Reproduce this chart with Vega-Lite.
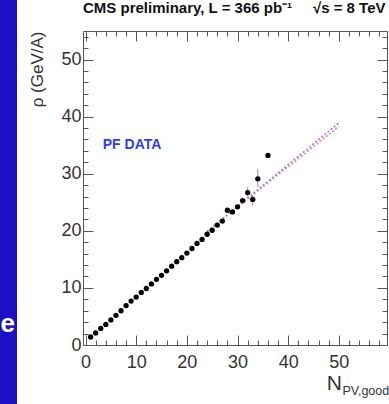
{
  "$schema": "https://vega.github.io/schema/vega-lite/v6.json",
  "width": 304,
  "height": 314,
  "autosize": {"type": "none"},
  "padding": {"left": 83, "top": 31, "right": 2, "bottom": 59},
  "background": "#1d10c4",
  "config": {
    "view": {"stroke": "white", "strokeWidth": 132, "fill": "white"},
    "font": "Liberation Sans"
  },
  "title": {
    "text": "CMS preliminary, L = 366 pb⁻¹\u00a0\u00a0\u00a0\u00a0\u00a0√s = 8 TeV",
    "anchor": "start",
    "frame": "group",
    "font": "Liberation Sans",
    "fontSize": 15,
    "fontWeight": "bold",
    "color": "#111111",
    "baseline": "alphabetic",
    "offset": 14,
    "dy": 14.5
  },
  "resolve": {"axis": {"x": "independent", "y": "independent"}},
  "layer": [
    {
      "data": {"values": [{"N": 24, "rho": 19.9}, {"N": 50, "rho": 38.9}]},
      "mark": {"type": "line", "color": "#7b7bff", "strokeDash": [2, 2], "strokeWidth": 1.5},
      "encoding": {
        "x": {
          "field": "N", "type": "quantitative",
          "scale": {"domain": [-0.5, 59.5], "nice": false, "zero": false},
          "axis": {
            "orient": "bottom",
            "values": [0,2,4,6,8,10,12,14,16,18,20,22,24,26,28,30,32,34,36,38,40,42,44,46,48,50,52,54,56,58],
            "tickSize": {"condition": {"test": "datum.value % 10 === 0", "value": -10}, "value": -5},
            "labelExpr": "datum.value % 10 === 0 ? datum.label : ''",
            "labelFont": "Liberation Sans", "labelFontSize": 18, "labelColor": "#333333",
            "labelPadding": 18, "labelFlush": false, "labelOverlap": false,
            "domainColor": "#555555", "tickColor": "#555555", "grid": false, "title": null
          }
        },
        "y": {
          "field": "rho", "type": "quantitative",
          "scale": {"domain": [0, 55], "nice": false, "zero": false},
          "axis": {
            "orient": "left",
            "values": [0,2,4,6,8,10,12,14,16,18,20,22,24,26,28,30,32,34,36,38,40,42,44,46,48,50,52,54],
            "tickSize": {"condition": {"test": "datum.value % 10 === 0", "value": -10}, "value": -5},
            "labelExpr": "datum.value % 10 === 0 ? datum.label : ''",
            "labelFont": "Liberation Sans", "labelFontSize": 18, "labelColor": "#333333",
            "labelPadding": 12, "labelFlush": false, "labelOverlap": false,
            "domainColor": "#555555", "tickColor": "#555555", "grid": false,
            "title": "ρ (GeV/A)", "titleAnchor": "end", "titleFont": "Liberation Sans",
            "titleFontSize": 17, "titleFontWeight": "normal", "titleColor": "#333333", "titlePadding": 14
          }
        }
      }
    },
    {
      "data": {"values": [{"N": 24, "rho": 19.9}, {"N": 50, "rho": 38.3}]},
      "mark": {"type": "line", "color": "#ff7b7b", "strokeDash": [2, 2], "strokeWidth": 1.5},
      "encoding": {
        "x": {
          "field": "N", "type": "quantitative",
          "axis": {
            "orient": "top",
            "values": [0,2,4,6,8,10,12,14,16,18,20,22,24,26,28,30,32,34,36,38,40,42,44,46,48,50,52,54,56,58],
            "tickSize": {"condition": {"test": "datum.value % 10 === 0", "value": -10}, "value": -5},
            "labels": false, "domainColor": "#555555", "tickColor": "#555555", "grid": false, "title": null
          }
        },
        "y": {
          "field": "rho", "type": "quantitative",
          "axis": {
            "orient": "right",
            "values": [0,2,4,6,8,10,12,14,16,18,20,22,24,26,28,30,32,34,36,38,40,42,44,46,48,50,52,54],
            "tickSize": {"condition": {"test": "datum.value % 10 === 0", "value": -10}, "value": -5},
            "labels": false, "domainColor": "#555555", "tickColor": "#555555", "grid": false, "title": null
          }
        }
      }
    },
    {
      "data": {"values": [
        {"N": 32, "lo": 26.0, "hi": 27.7},
        {"N": 33, "lo": 24.4, "hi": 26.3},
        {"N": 34, "lo": 27.7, "hi": 30.8}
      ]},
      "mark": {"type": "rule", "color": "#8a8ae0", "strokeWidth": 1},
      "encoding": {
        "x": {"field": "N", "type": "quantitative", "axis": null},
        "y": {"field": "lo", "type": "quantitative", "axis": null},
        "y2": {"field": "hi"}
      }
    },
    {
      "data": {"values": [
        {"N": 1, "rho": 1.4}, {"N": 2, "rho": 2.1}, {"N": 3, "rho": 2.9}, {"N": 4, "rho": 3.6},
        {"N": 5, "rho": 4.4}, {"N": 6, "rho": 5.2}, {"N": 7, "rho": 6.0}, {"N": 8, "rho": 6.9},
        {"N": 9, "rho": 7.7}, {"N": 10, "rho": 8.4}, {"N": 11, "rho": 9.2}, {"N": 12, "rho": 9.9},
        {"N": 13, "rho": 10.7}, {"N": 14, "rho": 11.5}, {"N": 15, "rho": 12.2}, {"N": 16, "rho": 13.0},
        {"N": 17, "rho": 13.8}, {"N": 18, "rho": 14.6}, {"N": 19, "rho": 15.3}, {"N": 20, "rho": 16.1},
        {"N": 21, "rho": 16.9}, {"N": 22, "rho": 17.8}, {"N": 23, "rho": 18.5}, {"N": 24, "rho": 19.4},
        {"N": 25, "rho": 20.1}, {"N": 26, "rho": 21.0}, {"N": 27, "rho": 21.7}, {"N": 28, "rho": 23.6},
        {"N": 29, "rho": 23.3}, {"N": 30, "rho": 24.2}, {"N": 31, "rho": 25.3}, {"N": 32, "rho": 26.7},
        {"N": 33, "rho": 25.5}, {"N": 34, "rho": 29.1}, {"N": 36, "rho": 33.2}
      ]},
      "mark": {"type": "circle", "color": "black", "size": 28, "opacity": 1},
      "encoding": {
        "x": {"field": "N", "type": "quantitative", "axis": null},
        "y": {"field": "rho", "type": "quantitative", "axis": null}
      }
    },
    {
      "data": {"values": [{"label": "PF DATA"}]},
      "mark": {"type": "text", "align": "left", "baseline": "alphabetic", "font": "Liberation Sans", "fontSize": 14, "fontWeight": "bold", "color": "#3040f0"},
      "encoding": {
        "text": {"field": "label"},
        "x": {"datum": 3.4, "type": "quantitative", "axis": null},
        "y": {"datum": 34.4, "type": "quantitative", "axis": null}
      }
    },
    {
      "data": {"values": [{"label": "N"}]},
      "mark": {"type": "text", "align": "right", "baseline": "alphabetic", "font": "Liberation Sans", "fontSize": 21, "color": "#333333"},
      "encoding": {
        "text": {"field": "label"},
        "x": {"datum": 50.6, "type": "quantitative", "axis": null},
        "y": {"datum": -7.9, "type": "quantitative", "axis": null}
      }
    },
    {
      "data": {"values": [{"label": "PV,good"}]},
      "mark": {"type": "text", "align": "left", "baseline": "alphabetic", "font": "Liberation Sans", "fontSize": 12.5, "color": "#333333"},
      "encoding": {
        "text": {"field": "label"},
        "x": {"datum": 50.7, "type": "quantitative", "axis": null},
        "y": {"datum": -8.8, "type": "quantitative", "axis": null}
      }
    },
    {
      "data": {"values": [{"label": "e"}]},
      "mark": {"type": "text", "align": "left", "baseline": "alphabetic", "font": "Liberation Sans", "fontSize": 26, "fontWeight": "bold", "color": "white"},
      "encoding": {
        "text": {"field": "label"},
        "x": {"datum": -16.8, "type": "quantitative", "axis": null},
        "y": {"datum": 2.3, "type": "quantitative", "axis": null}
      }
    }
  ]
}
